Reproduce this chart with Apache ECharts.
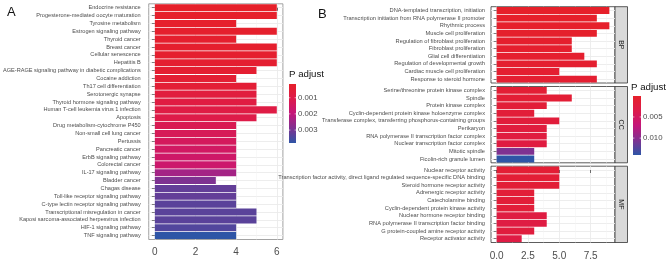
<!DOCTYPE html>
<html>
<head>
<meta charset="utf-8">
<script src="https://cdn.jsdelivr.net/npm/echarts@6/dist/echarts.min.js"></script>
<style>
  html, body { margin: 0; padding: 0; background: #fff; }
  #main { width: 668px; height: 263px; }
</style>
</head>
<body>
<div id="main"></div>
<script>
// ---- panel A: KEGG ----
const keggTerms = [
  'Endocrine resistance', 'Progesterone-mediated oocyte maturation', 'Tyrosine metabolism',
  'Estrogen signaling pathway', 'Thyroid cancer', 'Breast cancer', 'Cellular senescence', 'Hepatitis B',
  'AGE-RAGE signaling pathway in diabetic complications', 'Cocaine addiction', 'Th17 cell differentiation',
  'Serotonergic synapse', 'Thyroid hormone signaling pathway', 'Human T-cell leukemia virus 1 infection',
  'Apoptosis', 'Drug metabolism-cytochrome P450', 'Non-small cell lung cancer', 'Pertussis',
  'Pancreatic cancer', 'ErbB signaling pathway', 'Colorectal cancer', 'IL-17 signaling pathway',
  'Bladder cancer', 'Chagas disease', 'Toll-like receptor signaling pathway',
  'C-type lectin receptor signaling pathway', 'Transcriptional misregulation in cancer',
  'Kaposi sarcoma-associated herpesvirus infection', 'HIF-1 signaling pathway', 'TNF signaling pathway'
];
const keggCounts = [6, 6, 4, 6, 4, 6, 6, 6, 5, 4, 5, 5, 5, 6, 5, 4, 4, 4, 4, 4, 4, 4, 3, 4, 4, 4, 5, 5, 4, 4];
const keggPadj = [0.00015, 0.00017, 0.0002, 0.00022, 0.00025, 0.00027, 0.0003, 0.00033, 0.00038, 0.00042,
  0.00048, 0.0007, 0.0008, 0.0009, 0.001, 0.0012, 0.0013, 0.0014, 0.0015, 0.0016,
  0.0017, 0.0024, 0.0029, 0.0032, 0.0032, 0.0033, 0.0033, 0.0033, 0.0034, 0.0038];
const keggTicks = [0, 2, 4, 6];
const keggMinor = [1, 3, 5];
const keggLegendTicks = [0.001, 0.002, 0.003];

// ---- panel B: GO ----
const facetNames = ['BP', 'CC', 'MF'];
const bpTerms = [
  'DNA-templated transcription, initiation', 'Transcription initiation from RNA polymerase II promoter',
  'Rhythmic process', 'Muscle cell proliferation', 'Regulation of fibroblast proliferation',
  'Fibroblast proliferation', 'Glial cell differentiation', 'Regulation of developmental growth',
  'Cardiac muscle cell proliferation', 'Response to steroid hormone'
];
const bpCounts = [9, 8, 9, 8, 6, 6, 7, 8, 5, 8];
const bpPadj = [0.00004, 0.0001, 0.0002, 0.0003, 0.0004, 0.0005, 0.0006, 0.0007, 0.0008, 0.0009];
const ccTerms = [
  'Serine/threonine protein kinase complex', 'Spindle', 'Protein kinase complex',
  'Cyclin-dependent protein kinase holoenzyme complex',
  'Transferase complex, transferring phosphorus-containing groups', 'Perikaryon',
  'RNA polymerase II transcription factor complex', 'Nuclear transcription factor complex',
  'Mitotic spindle', 'Ficolin-rich granule lumen'
];
const ccCounts = [4, 6, 4, 3, 5, 4, 4, 4, 3, 3];
const ccPadj = [0.0012, 0.0013, 0.0015, 0.0016, 0.0018, 0.0022, 0.0024, 0.0025, 0.0105, 0.014];
const mfTerms = [
  'Nuclear receptor activity',
  'Transcription factor activity, direct ligand regulated sequence-specific DNA binding',
  'Steroid hormone receptor activity', 'Adrenergic receptor activity', 'Catecholamine binding',
  'Cyclin-dependent protein kinase activity', 'Nuclear hormone receptor binding',
  'RNA polymerase II transcription factor binding', 'G protein-coupled amine receptor activity',
  'Receptor activator activity'
];
const mfCounts = [5, 5, 5, 3, 3, 3, 4, 4, 3, 2];
const mfPadj = [0.0012, 0.0013, 0.0014, 0.0015, 0.0016, 0.0017, 0.0026, 0.0027, 0.0022, 0.0028];
const goTicks = [0, 2.5, 5, 7.5];
const goMinor = [1.25, 3.75, 6.25, 8.75];
const goLegendTicks = [0.005, 0.010];

const palette = ['#E6202A', '#DD1B4B', '#C4167A', '#7F3291', '#2E55A6'];
const font = '"Liberation Sans", Arial, Helvetica, sans-serif';
const txt = '#4D4D4D';

const chart = echarts.init(document.getElementById('main'), null, {renderer: 'canvas'});

// layout
const gA = {left: 145.5, top: 3.8, width: 137.4, height: 235.7};
const facetTops = [6.7, 86.5, 166.2];
const gB = {left: 491, width: 124, height: 76.3};
const stripW = 12.5;

const grids = [
  {left: gA.left, top: gA.top, width: gA.width, height: gA.height, show: true,
   borderColor: '#8C8C8C', borderWidth: 0.8, backgroundColor: '#fff'}
];
facetTops.forEach(t => grids.push({left: gB.left, top: t, width: gB.width, height: gB.height, show: true,
  borderColor: '#333', borderWidth: 0.8, backgroundColor: '#fff'}));

function majorX(gi, min, max, ticks, showLabels, margin) {
  return {
    type: 'value', gridIndex: gi, min: min, max: max, position: 'bottom',
    axisLine: {show: false},
    axisTick: {show: showLabels, customValues: ticks, length: 3, lineStyle: {color: '#333', width: 0.7}},
    axisLabel: {show: showLabels, customValues: ticks, fontSize: 10, color: txt, fontFamily: font, margin: margin,
      formatter: v => (ticks.some(t => t % 1 !== 0) ? v.toFixed(1) : String(v))},
    splitLine: {show: true, lineStyle: {color: '#EBEBEB', width: 0.9}}
  };
}
function minorX(gi, min, max, minor) {
  return {
    type: 'value', gridIndex: gi, min: min, max: max, position: 'bottom',
    axisLine: {show: false}, axisLabel: {show: false},
    axisTick: {show: false, customValues: minor},
    splitLine: {show: true, lineStyle: {color: '#F3F3F3', width: 0.5}}
  };
}
function catY(gi, terms, fs, margin) {
  return {
    type: 'category', gridIndex: gi, data: terms, inverse: true,
    axisLine: {show: false},
    axisTick: {show: true, length: 3, alignWithLabel: true, lineStyle: {color: '#333', width: 0.6}},
    axisLabel: {fontSize: fs, color: txt, fontFamily: font, margin: margin, interval: 0},
    splitLine: {show: false}
  };
}
function rowY(gi, n) {
  const idx = [];
  for (let i = 0; i < n; i++) idx.push(i);
  return {
    type: 'value', gridIndex: gi, min: -0.5, max: n - 0.5, inverse: true, position: 'left',
    axisLine: {show: false}, axisLabel: {show: false},
    axisTick: {show: false, customValues: idx},
    splitLine: {show: true, lineStyle: {color: '#EBEBEB', width: 0.9}}
  };
}

const xAxes = [majorX(0, -0.3, 6.3, keggTicks, true, 7.5), minorX(0, -0.3, 6.3, keggMinor)];
const yAxes = [catY(0, keggTerms, 5.6, 8), rowY(0, keggTerms.length)];
const goSets = [
  [bpTerms, bpCounts, bpPadj],
  [ccTerms, ccCounts, ccPadj],
  [mfTerms, mfCounts, mfPadj]
];
goSets.forEach((s, k) => {
  xAxes.push(majorX(k + 1, -0.45, 9.45, goTicks, k === 2, 9));
  xAxes.push(minorX(k + 1, -0.45, 9.45, goMinor));
  yAxes.push(catY(k + 1, s[0], 5.7, 6));
  yAxes.push(rowY(k + 1, s[0].length));
});

const series = [{
  type: 'bar', xAxisIndex: 0, yAxisIndex: 0, barCategoryGap: '10%',
  data: keggTerms.map((t, i) => [keggCounts[i], t, keggPadj[i]]),
  encode: {x: 0, y: 1}, silent: true
}];
goSets.forEach((s, k) => {
  series.push({
    type: 'bar', xAxisIndex: 2 + k * 2, yAxisIndex: 2 + k * 2, barCategoryGap: '10%',
    data: s[0].map((t, i) => [s[1][i], t, s[2][i]]),
    encode: {x: 0, y: 1}, silent: true
  });
});

const aMin = Math.min(...keggPadj), aMax = Math.max(...keggPadj);
const goAll = bpPadj.concat(ccPadj, mfPadj);
const bMin = Math.min(...goAll), bMax = Math.max(...goAll);
const barA = {left: 289, top: 84, w: 7, h: 59};
const barB = {left: 633, top: 96, w: 8, h: 59};

const graphics = [
  {type: 'text', left: 7, top: 6, style: {text: 'A', fontSize: 13, fill: '#111', fontFamily: font}},
  {type: 'text', left: 318, top: 8, style: {text: 'B', fontSize: 13, fill: '#111', fontFamily: font}},
  {type: 'text', left: barA.left, top: 69, style: {text: 'P adjust', fontSize: 9.7, fill: '#111', fontFamily: font}},
  {type: 'text', left: barB.left - 2, top: 82, style: {text: 'P adjust', fontSize: 9.7, fill: '#111', fontFamily: font}}
];
const gradient = {
  type: 'linear', x: 0, y: 0, x2: 0, y2: 1,
  colorStops: palette.map((c, i) => ({offset: i / (palette.length - 1), color: c}))
};
function colorbar(bar, min, max, ticks, digits) {
  graphics.push({type: 'rect', shape: {x: bar.left, y: bar.top, width: bar.w, height: bar.h},
    style: {fill: gradient}, z: 90});
  ticks.forEach(v => {
    const y = bar.top + (v - min) / (max - min) * bar.h;
    graphics.push({type: 'text', x: bar.left + bar.w + 2, y: y,
      style: {text: v.toFixed(digits), fontSize: 7.8, fill: txt, fontFamily: font, verticalAlign: 'middle'}});
    graphics.push({type: 'line', shape: {x1: bar.left, y1: y, x2: bar.left + 1.4, y2: y},
      style: {stroke: '#fff', lineWidth: 0.6}, z: 100});
    graphics.push({type: 'line', shape: {x1: bar.left + bar.w - 1.4, y1: y, x2: bar.left + bar.w, y2: y},
      style: {stroke: '#fff', lineWidth: 0.6}, z: 100});
  });
}
colorbar(barA, aMin, aMax, keggLegendTicks, 3);
colorbar(barB, bMin, bMax, goLegendTicks, 3);

facetTops.forEach((t, k) => {
  graphics.push({type: 'rect', shape: {x: gB.left + gB.width, y: t, width: stripW, height: gB.height},
    style: {fill: '#D9D9D9', stroke: '#333', lineWidth: 0.8}});
  graphics.push({type: 'text', x: gB.left + gB.width + stripW / 2, y: t + gB.height / 2, rotation: -Math.PI / 2,
    style: {text: facetNames[k], fontSize: 7, fill: '#1A1A1A', fontFamily: font, align: 'center', verticalAlign: 'middle'}});
});

chart.setOption({
  animation: false,
  textStyle: {fontFamily: font},
  grid: grids,
  xAxis: xAxes,
  yAxis: yAxes,
  visualMap: [
    {type: 'continuous', show: false, seriesIndex: 0, dimension: 2, min: aMin, max: aMax,
     inRange: {color: palette}},
    {type: 'continuous', show: false, seriesIndex: [1, 2, 3], dimension: 2, min: bMin, max: bMax,
     inRange: {color: palette}}
  ],
  series: series,
  graphic: graphics
});
</script>
</body>
</html>
